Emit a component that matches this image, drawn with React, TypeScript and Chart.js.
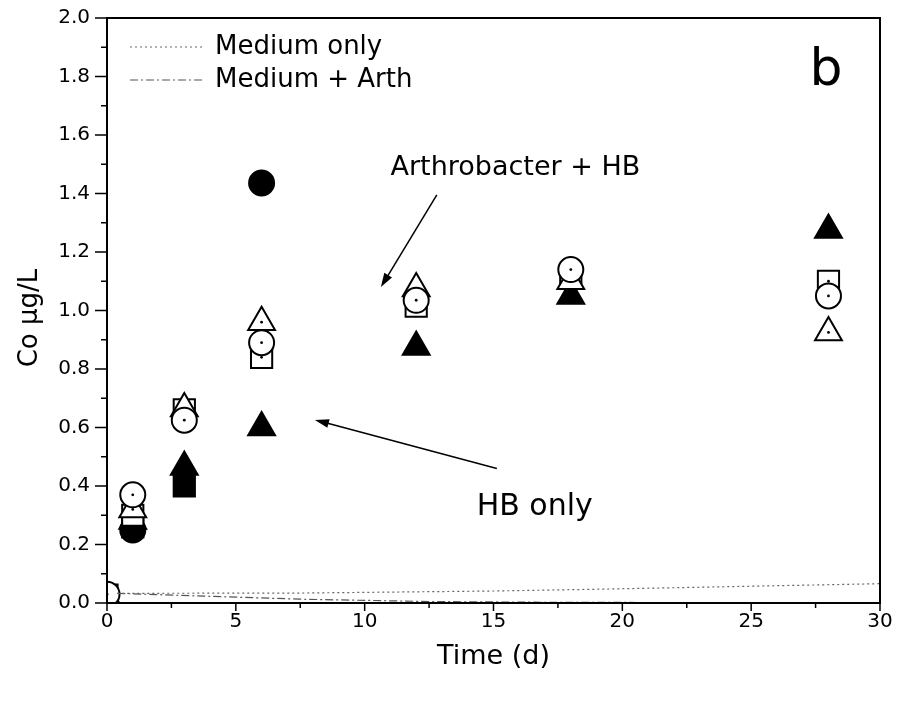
import React, { useEffect, useRef } from "react";
import { Chart, registerables } from "chart.js";

Chart.register(...registerables);

// ---- data ----
const openDays = [0, 1, 3, 6, 12, 18, 28];
const arthCircle = [0.03, 0.37, 0.625, 0.89, 1.035, 1.14, 1.05];
const arthTriangle = [0.02, 0.32, 0.665, 0.96, 1.075, 1.1, 0.925];
const arthSquare = [0.027, 0.3, 0.66, 0.84, 1.015, 1.11, 1.1];

const hbTriangleDays = [1, 3, 6, 12, 18, 28];
const hbTriangle = [0.28, 0.465, 0.6, 0.875, 1.05, 1.275];
const hbSquareDays = [1, 3];
const hbSquare = [0.26, 0.4];
const hbCircleDays = [1, 6];
const hbCircle = [0.25, 1.436];

const mediumOnlyDays = [0.4, 7.5, 15, 19, 30];
const mediumOnly = [0.033, 0.034, 0.041, 0.047, 0.066];
const mediumArthDays = [0.4, 7.5, 12.5, 18, 30];
const mediumArth = [0.033, 0.013, 0.005, 0.002, 0.001];

const xTicks = [0, 5, 10, 15, 20, 25, 30];
const yTicks = [0, 0.2, 0.4, 0.6, 0.8, 1.0, 1.2, 1.4, 1.6, 1.8, 2.0];

const FONT = '"DejaVu Sans", sans-serif';

const pts = (xs: number[], ys: number[]) => xs.map((x, i) => ({ x, y: ys[i] }));

function arrow(ctx: CanvasRenderingContext2D, x1: number, y1: number, x2: number, y2: number) {
  const a = Math.atan2(y2 - y1, x2 - x1);
  const hl = 14, hw = 4.5;
  ctx.beginPath();
  ctx.moveTo(x1, y1);
  ctx.lineTo(x2 - Math.cos(a) * hl * 0.8, y2 - Math.sin(a) * hl * 0.8);
  ctx.lineWidth = 1.5;
  ctx.strokeStyle = "#000";
  ctx.stroke();
  ctx.beginPath();
  ctx.moveTo(x2, y2);
  ctx.lineTo(x2 - Math.cos(a) * hl - Math.sin(a) * hw, y2 - Math.sin(a) * hl + Math.cos(a) * hw);
  ctx.lineTo(x2 - Math.cos(a) * hl + Math.sin(a) * hw, y2 - Math.sin(a) * hl - Math.cos(a) * hw);
  ctx.closePath();
  ctx.fillStyle = "#000";
  ctx.fill();
}

const customPlugin = {
  id: "customDecor",
  afterDatasetDraw(chart: any, args: any) {
    const ds = chart.data.datasets[args.index];
    if (!ds.centerDot) return;
    const ctx = chart.ctx;
    const ca = chart.chartArea;
    ctx.save();
    ctx.beginPath();
    ctx.rect(ca.left, ca.top, ca.right - ca.left, ca.bottom - ca.top);
    ctx.clip();
    ctx.fillStyle = "#000";
    args.meta.data.forEach((p: any) => {
      ctx.beginPath();
      ctx.arc(p.x, p.y, 1.4, 0, Math.PI * 2);
      ctx.fill();
    });
    ctx.restore();
  },
  afterDraw(chart: any) {
    const ctx = chart.ctx;
    const ca = chart.chartArea;
    const xs = chart.scales.x;
    const ys = chart.scales.y;
    ctx.save();
    // frame
    ctx.strokeStyle = "#000";
    ctx.lineWidth = 2;
    ctx.strokeRect(ca.left, ca.top, ca.right - ca.left, ca.bottom - ca.top);
    // ticks
    ctx.lineWidth = 1.5;
    ctx.beginPath();
    xTicks.forEach((v, i) => {
      const px = xs.getPixelForValue(v);
      ctx.moveTo(px, ca.bottom);
      ctx.lineTo(px, ca.bottom + 8);
      if (i < xTicks.length - 1) {
        const m = xs.getPixelForValue((v + xTicks[i + 1]) / 2);
        ctx.moveTo(m, ca.bottom);
        ctx.lineTo(m, ca.bottom + 5);
      }
    });
    yTicks.forEach((v, i) => {
      const py = ys.getPixelForValue(v);
      ctx.moveTo(ca.left, py);
      ctx.lineTo(ca.left - 12, py);
      if (i < yTicks.length - 1) {
        const m = ys.getPixelForValue((v + yTicks[i + 1]) / 2);
        ctx.moveTo(ca.left, m);
        ctx.lineTo(ca.left - 6, m);
      }
    });
    ctx.stroke();

    // axis titles
    ctx.fillStyle = "#000";
    ctx.textAlign = "center";
    ctx.textBaseline = "middle";
    ctx.font = `27px ${FONT}`;
    ctx.fillText("Time (d)", (ca.left + ca.right) / 2, 657);
    ctx.save();
    ctx.translate(30, 318);
    ctx.rotate(-Math.PI / 2);
    ctx.font = `26px ${FONT}`;
    ctx.fillText("Co µg/L", 0, 0);
    ctx.restore();

    // legend
    const legendItems = [
      { label: "Medium only", dash: [2, 3], color: "#666", y: ca.top + 29 },
      { label: "Medium + Arth", dash: [8, 3, 2, 3], color: "#555", y: ca.top + 62 },
    ];
    legendItems.forEach((it) => {
      ctx.beginPath();
      ctx.setLineDash(it.dash);
      ctx.strokeStyle = it.color;
      ctx.lineWidth = 1.2;
      ctx.moveTo(ca.left + 23, it.y);
      ctx.lineTo(ca.left + 98, it.y);
      ctx.stroke();
      ctx.setLineDash([]);
      ctx.textAlign = "left";
      ctx.font = `26px ${FONT}`;
      ctx.fillStyle = "#000";
      ctx.fillText(it.label, ca.left + 108, it.y);
    });

    // panel letter
    ctx.textAlign = "center";
    ctx.textBaseline = "alphabetic";
    ctx.font = `52px ${FONT}`;
    ctx.fillText("b", ca.right - 54, ca.top + 67);

    // annotations
    ctx.textBaseline = "middle";
    ctx.font = `27px ${FONT}`;
    ctx.fillText("Arthrobacter + HB", xs.getPixelForValue(15.85), ys.getPixelForValue(1.487));
    ctx.font = `30px ${FONT}`;
    ctx.fillText("HB only", xs.getPixelForValue(16.6), ys.getPixelForValue(0.328));
    arrow(ctx, xs.getPixelForValue(12.8), ys.getPixelForValue(1.395), xs.getPixelForValue(10.63), ys.getPixelForValue(1.08));
    arrow(ctx, xs.getPixelForValue(15.13), ys.getPixelForValue(0.46), xs.getPixelForValue(8.07), ys.getPixelForValue(0.626));
    ctx.restore();
  },
};

export default function App() {
  const ref = useRef<HTMLCanvasElement | null>(null);
  useEffect(() => {
    if (!ref.current) return;
    const marker = (style: string, r: number, filled: boolean) => ({
      showLine: false,
      pointStyle: style,
      pointRadius: r,
      pointHoverRadius: r,
      pointBackgroundColor: filled ? "#000" : "#fff",
      pointBorderColor: "#000",
      pointBorderWidth: 2,
      backgroundColor: filled ? "#000" : "#fff",
      borderColor: "#000",
      clip: 0,
    });
    const chart = new Chart(ref.current, {
      type: "scatter",
      data: {
        datasets: [
          {
            label: "Medium only",
            data: pts(mediumOnlyDays, mediumOnly),
            showLine: true,
            pointRadius: 0,
            borderColor: "#666",
            borderWidth: 1.2,
            borderDash: [2, 3],
            clip: 0,
          },
          {
            label: "Medium + Arth",
            data: pts(mediumArthDays, mediumArth),
            showLine: true,
            pointRadius: 0,
            borderColor: "#555",
            borderWidth: 1.2,
            borderDash: [8, 3, 2, 3],
            clip: 0,
          },
          { label: "Arth circle", data: pts(openDays, arthCircle), ...marker("circle", 12.5, false), centerDot: true },
          { label: "Arth triangle", data: pts(openDays, arthTriangle), ...marker("triangle", 15.5, false), centerDot: true },
          { label: "Arth square", data: pts(openDays, arthSquare), ...marker("rect", 15, false), centerDot: true },
          { label: "HB triangle", data: pts(hbTriangleDays, hbTriangle), ...marker("triangle", 15.5, true) },
          { label: "HB square", data: pts(hbSquareDays, hbSquare), ...marker("rect", 15, true) },
          { label: "HB circle", data: pts(hbCircleDays, hbCircle), ...marker("circle", 12.5, true) },
        ] as any,
      },
      options: {
        animation: false,
        responsive: true,
        maintainAspectRatio: false,
        layout: { padding: { top: 18, right: 25, left: 0, bottom: 0 } },
        plugins: { legend: { display: false }, tooltip: { enabled: false } },
        events: [],
        scales: {
          x: {
            type: "linear",
            min: 0,
            max: 30,
            grid: { display: false, drawTicks: false },
            border: { display: false },
            afterBuildTicks: (s: any) => {
              s.ticks = xTicks.map((v) => ({ value: v }));
            },
            afterFit: (s: any) => {
              s.height = 102;
              s.paddingLeft = 0;
              s.paddingRight = 0;
            },
            ticks: {
              padding: 7,
              color: "#000",
              font: { family: FONT, size: 20 },
              callback: (v: any) => String(v),
            },
          },
          y: {
            type: "linear",
            min: 0,
            max: 2,
            grid: { display: false, drawTicks: false },
            border: { display: false },
            afterBuildTicks: (s: any) => {
              s.ticks = yTicks.map((v) => ({ value: v }));
            },
            afterFit: (s: any) => {
              s.width = 107;
              s.paddingTop = 0;
              s.paddingBottom = 0;
            },
            ticks: {
              padding: 17,
              color: "#000",
              font: { family: FONT, size: 20 },
              callback: (v: any) => Number(v).toFixed(1),
            },
          },
        },
      },
      plugins: [customPlugin],
    } as any);
    return () => chart.destroy();
  }, []);
  return (
    <div style={{ position: "fixed", left: 0, top: 0, width: 905, height: 705, background: "#fff" }}>
      <canvas ref={ref} />
    </div>
  );
}
